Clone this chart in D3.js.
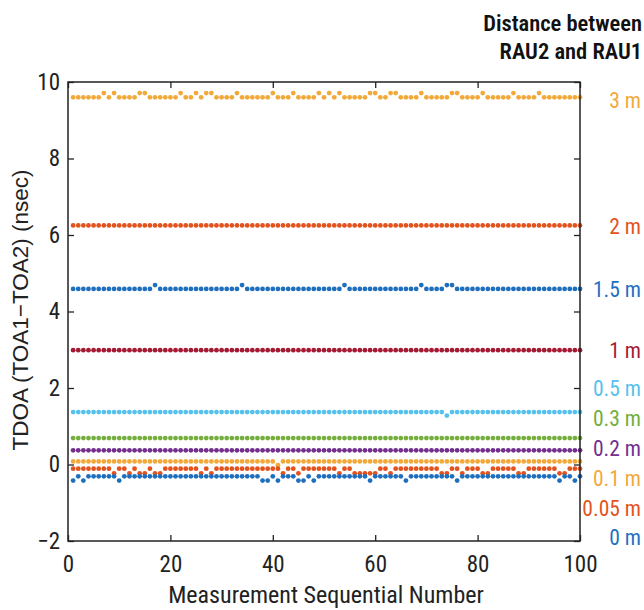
<!DOCTYPE html>
<html><head><meta charset="utf-8">
<script src="https://cdn.jsdelivr.net/npm/d3@7"></script>
<style>
html,body{margin:0;padding:0;background:#fff;}
svg{display:block;}
</style></head>
<body>
<svg id="chart" width="644" height="610"></svg>
<script>
// ---- DATA ----
const xTicks = [0, 20, 40, 60, 80, 100];
const yTicks = [-2, 0, 2, 4, 6, 8, 10];
const seriesNames = ["3 m", "2 m", "1.5 m", "1 m", "0.5 m", "0.3 m", "0.2 m", "0.1 m", "0.05 m", "0 m"];
const titleLines = ["Distance between", "RAU2 and RAU1"];
const xLabel = "Measurement Sequential Number";
const yLabel = "TDOA (TOA1\u2212TOA2) (nsec)";

const s3m = [
9.6,9.6,9.6,9.6,9.6,9.6,9.71,9.6,9.71,9.6,
9.6,9.6,9.6,9.71,9.71,9.6,9.6,9.6,9.6,9.6,
9.6,9.71,9.6,9.6,9.71,9.6,9.71,9.71,9.6,9.6,
9.6,9.6,9.71,9.6,9.6,9.6,9.6,9.6,9.6,9.71,
9.6,9.6,9.6,9.71,9.6,9.6,9.6,9.6,9.71,9.6,
9.71,9.6,9.71,9.6,9.6,9.6,9.6,9.6,9.71,9.71,
9.6,9.6,9.71,9.71,9.6,9.6,9.6,9.6,9.71,9.6,
9.6,9.6,9.6,9.6,9.71,9.71,9.6,9.6,9.6,9.6,
9.71,9.6,9.6,9.6,9.6,9.6,9.71,9.6,9.6,9.6,
9.6,9.71,9.6,9.6,9.6,9.6,9.6,9.6,9.6,9.6];
const s2m = [
6.25,6.25,6.25,6.25,6.25,6.25,6.25,6.25,6.25,6.25,
6.25,6.25,6.25,6.25,6.25,6.25,6.25,6.25,6.25,6.25,
6.25,6.25,6.25,6.25,6.25,6.25,6.25,6.25,6.25,6.25,
6.25,6.25,6.25,6.25,6.25,6.25,6.25,6.25,6.25,6.25,
6.25,6.25,6.25,6.25,6.25,6.25,6.25,6.25,6.25,6.25,
6.25,6.25,6.25,6.25,6.25,6.25,6.25,6.25,6.25,6.25,
6.25,6.25,6.25,6.25,6.25,6.25,6.25,6.25,6.25,6.25,
6.25,6.25,6.25,6.25,6.25,6.25,6.25,6.25,6.25,6.25,
6.25,6.25,6.25,6.25,6.25,6.25,6.25,6.25,6.25,6.25,
6.25,6.25,6.25,6.25,6.25,6.25,6.25,6.25,6.25,6.25];
const s1_5m = [
4.59,4.59,4.59,4.59,4.59,4.59,4.59,4.59,4.59,4.59,
4.59,4.59,4.59,4.59,4.59,4.59,4.69,4.59,4.59,4.59,
4.59,4.59,4.59,4.59,4.59,4.59,4.59,4.59,4.59,4.59,
4.59,4.59,4.59,4.69,4.59,4.59,4.59,4.59,4.59,4.59,
4.59,4.59,4.59,4.59,4.59,4.59,4.59,4.59,4.59,4.59,
4.59,4.59,4.59,4.69,4.59,4.59,4.59,4.59,4.59,4.59,
4.59,4.59,4.59,4.59,4.59,4.59,4.59,4.59,4.69,4.59,
4.59,4.59,4.59,4.69,4.69,4.59,4.59,4.59,4.59,4.59,
4.59,4.59,4.59,4.59,4.59,4.59,4.59,4.59,4.59,4.59,
4.59,4.59,4.59,4.59,4.59,4.59,4.59,4.59,4.59,4.59];
const s1m = [
2.99,2.99,2.99,2.99,2.99,2.99,2.99,2.99,2.99,2.99,
2.99,2.99,2.99,2.99,2.99,2.99,2.99,2.99,2.99,2.99,
2.99,2.99,2.99,2.99,2.99,2.99,2.99,2.99,2.99,2.99,
2.99,2.99,2.99,2.99,2.99,2.99,2.99,2.99,2.99,2.99,
2.99,2.99,2.99,2.99,2.99,2.99,2.99,2.99,2.99,2.99,
2.99,2.99,2.99,2.99,2.99,2.99,2.99,2.99,2.99,2.99,
2.99,2.99,2.99,2.99,2.99,2.99,2.99,2.99,2.99,2.99,
2.99,2.99,2.99,2.99,2.99,2.99,2.99,2.99,2.99,2.99,
2.99,2.99,2.99,2.99,2.99,2.99,2.99,2.99,2.99,2.99,
2.99,2.99,2.99,2.99,2.99,2.99,2.99,2.99,2.99,2.99];
const s0_5m = [
1.37,1.37,1.37,1.37,1.37,1.37,1.37,1.37,1.37,1.37,
1.37,1.37,1.37,1.37,1.37,1.37,1.37,1.37,1.37,1.37,
1.37,1.37,1.37,1.37,1.37,1.37,1.37,1.37,1.37,1.37,
1.37,1.37,1.37,1.37,1.37,1.37,1.37,1.37,1.37,1.37,
1.37,1.37,1.37,1.37,1.37,1.37,1.37,1.37,1.37,1.37,
1.37,1.37,1.37,1.37,1.37,1.37,1.37,1.37,1.37,1.37,
1.37,1.37,1.37,1.37,1.37,1.37,1.37,1.37,1.37,1.37,
1.37,1.37,1.37,1.28,1.37,1.37,1.37,1.37,1.37,1.37,
1.37,1.37,1.37,1.37,1.37,1.37,1.37,1.37,1.37,1.37,
1.37,1.37,1.37,1.37,1.37,1.37,1.37,1.37,1.37,1.37];
const s0_3m = [
0.69,0.69,0.69,0.69,0.69,0.69,0.69,0.69,0.69,0.69,
0.69,0.69,0.69,0.69,0.69,0.69,0.69,0.69,0.69,0.69,
0.69,0.69,0.69,0.69,0.69,0.69,0.69,0.69,0.69,0.69,
0.69,0.69,0.69,0.69,0.69,0.69,0.69,0.69,0.69,0.69,
0.69,0.69,0.69,0.69,0.69,0.69,0.69,0.69,0.69,0.69,
0.69,0.69,0.69,0.69,0.69,0.69,0.69,0.69,0.69,0.69,
0.69,0.69,0.69,0.69,0.69,0.69,0.69,0.69,0.69,0.69,
0.69,0.69,0.69,0.69,0.69,0.69,0.69,0.69,0.69,0.69,
0.69,0.69,0.69,0.69,0.69,0.69,0.69,0.69,0.69,0.69,
0.69,0.69,0.69,0.69,0.69,0.69,0.69,0.69,0.69,0.69];
const s0_2m = [
0.37,0.37,0.37,0.37,0.37,0.37,0.37,0.37,0.37,0.37,
0.37,0.37,0.37,0.37,0.37,0.37,0.37,0.37,0.37,0.37,
0.37,0.37,0.37,0.37,0.37,0.37,0.37,0.37,0.37,0.37,
0.37,0.37,0.37,0.37,0.37,0.37,0.37,0.37,0.37,0.37,
0.37,0.37,0.37,0.37,0.37,0.37,0.37,0.37,0.37,0.37,
0.37,0.37,0.37,0.37,0.37,0.37,0.37,0.37,0.37,0.37,
0.37,0.37,0.37,0.37,0.37,0.37,0.37,0.37,0.37,0.37,
0.37,0.37,0.37,0.37,0.37,0.37,0.37,0.37,0.37,0.37,
0.37,0.37,0.37,0.37,0.37,0.37,0.37,0.37,0.37,0.37,
0.37,0.37,0.37,0.37,0.37,0.37,0.37,0.37,0.37,0.37];
const s0_1m = [
0.08,0.08,0.08,0.08,0.08,0.08,0.08,0.08,0.08,0.08,
0.08,0.08,0.08,0.08,0.08,0.08,0.08,0.08,0.08,0.08,
0.08,0.08,0.08,0.08,0.08,0.08,0.08,0.08,0.08,0.08,
0.08,0.08,0.08,0.08,0.08,0.08,0.08,0.08,0.08,0.08,
-0.02,0.08,0.08,0.08,0.08,0.08,0.08,0.08,0.08,0.08,
0.08,0.08,0.08,0.08,0.08,0.08,0.08,0.08,0.08,0.08,
0.08,0.08,0.08,0.08,0.08,0.08,0.08,0.08,0.08,0.08,
0.08,0.08,0.08,0.08,0.08,0.08,0.08,0.08,0.08,0.08,
0.08,0.08,0.08,0.08,0.08,0.08,0.08,0.08,0.08,0.08,
0.08,0.08,0.08,0.08,0.08,0.08,0.08,0.08,0.08,0.08];
const s0_05m = [
-0.11,-0.11,-0.11,-0.11,-0.11,-0.11,-0.11,-0.11,-0.23,-0.11,
-0.11,-0.23,-0.11,-0.23,-0.23,-0.11,-0.23,-0.23,-0.11,-0.11,
-0.11,-0.11,-0.11,-0.11,-0.11,-0.23,-0.11,-0.23,-0.11,-0.11,
-0.11,-0.11,-0.11,-0.11,-0.11,-0.11,-0.11,-0.11,-0.11,-0.11,
-0.11,-0.23,-0.11,-0.11,-0.23,-0.11,-0.11,-0.11,-0.11,-0.11,
-0.11,-0.11,-0.23,-0.11,-0.11,-0.23,-0.23,-0.23,-0.23,-0.23,
-0.11,-0.11,-0.23,-0.11,-0.11,-0.11,-0.11,-0.11,-0.11,-0.11,
-0.11,-0.11,-0.23,-0.23,-0.11,-0.11,-0.23,-0.11,-0.11,-0.11,
-0.23,-0.23,-0.11,-0.11,-0.11,-0.11,-0.11,-0.23,-0.23,-0.11,
-0.11,-0.11,-0.11,-0.11,-0.11,-0.23,-0.23,-0.11,-0.11,-0.11];
const s0m = [
-0.42,-0.31,-0.42,-0.31,-0.31,-0.31,-0.31,-0.31,-0.31,-0.42,
-0.31,-0.31,-0.31,-0.31,-0.31,-0.31,-0.31,-0.31,-0.31,-0.31,
-0.31,-0.31,-0.31,-0.31,-0.31,-0.31,-0.31,-0.31,-0.31,-0.31,
-0.31,-0.31,-0.31,-0.31,-0.31,-0.31,-0.31,-0.42,-0.42,-0.31,
-0.42,-0.31,-0.31,-0.31,-0.42,-0.42,-0.31,-0.42,-0.31,-0.31,
-0.31,-0.31,-0.31,-0.31,-0.31,-0.31,-0.31,-0.31,-0.42,-0.31,
-0.31,-0.31,-0.31,-0.31,-0.31,-0.42,-0.31,-0.31,-0.31,-0.31,
-0.31,-0.31,-0.31,-0.31,-0.31,-0.42,-0.31,-0.31,-0.31,-0.31,
-0.31,-0.31,-0.31,-0.31,-0.31,-0.31,-0.31,-0.31,-0.31,-0.31,
-0.31,-0.31,-0.31,-0.31,-0.31,-0.42,-0.31,-0.31,-0.42,-0.31];

// ---- STYLE / LAYOUT ----
const seriesColors = ["#F2A93B","#E2531E","#1F6FBF","#A51A33","#55C1EC","#74AE3C","#722F8D","#F2A93B","#E2531E","#1F6FBF"];
const allSeries = [s3m, s2m, s1_5m, s1m, s0_5m, s0_3m, s0_2m, s0_1m, s0_05m, s0m];
const labelCenterY = [100, 226, 289, 350, 388, 418, 448, 478, 508, 537];
const NARROW = "'Liberation Sans Narrow','Roboto Condensed','Arial Narrow',sans-serif";

const margin = {left: 68, right: 64, top: 82, bottom: 69};
const W = 644, H = 610;
const iw = W - margin.left - margin.right;   // 512
const ih = H - margin.top - margin.bottom;   // 459

const svg = d3.select("#chart");
const g = svg.append("g").attr("transform", `translate(${margin.left},${margin.top})`);

const x = d3.scaleLinear().domain([0, 100]).range([0, iw]);
const y = d3.scaleLinear().domain([-2, 10]).range([ih, 0]);

// points
allSeries.forEach((vals, si) => {
  g.append("g").selectAll("circle")
    .data(vals.map((v, i) => ({n: i + 1, v})))
    .join("circle")
    .attr("cx", d => x(d.n))
    .attr("cy", d => y(d.v))
    .attr("r", 2.4)
    .attr("fill", seriesColors[si]);
});

// axes with inward ticks
const tickStyle = sel => {
  sel.select(".domain").remove();
  sel.selectAll(".tick line").attr("stroke", "#222").attr("stroke-width", 1.3);
  sel.selectAll(".tick text").attr("fill", "#222").style("font-family", NARROW).style("font-size", "23px");
};
g.append("g").attr("transform", `translate(0,${ih})`)
  .call(d3.axisBottom(x).tickValues(xTicks).tickSizeInner(-6).tickSizeOuter(0).tickPadding(15))
  .call(tickStyle);
g.append("g")
  .call(d3.axisTop(x).tickValues(xTicks).tickSizeInner(-6).tickSizeOuter(0).tickFormat(""))
  .call(tickStyle);
g.append("g")
  .call(d3.axisLeft(y).tickValues(yTicks).tickSizeInner(-6).tickSizeOuter(0).tickPadding(8))
  .call(tickStyle);
g.append("g").attr("transform", `translate(${iw},0)`)
  .call(d3.axisRight(y).tickValues(yTicks).tickSizeInner(-6).tickSizeOuter(0).tickFormat(""))
  .call(tickStyle);

// frame
g.append("rect").attr("x", 0).attr("y", 0).attr("width", iw).attr("height", ih)
  .attr("fill", "none").attr("stroke", "#222").attr("stroke-width", 1.5);

// axis titles
svg.append("text")
  .attr("x", margin.left + iw / 2 + 2).attr("y", 603)
  .attr("text-anchor", "middle")
  .style("font-family", NARROW).style("font-size", "24px").attr("fill", "#222")
  .text(xLabel);
svg.append("text")
  .attr("transform", `translate(28,${310}) rotate(-90)`)
  .attr("text-anchor", "middle")
  .style("font-family", "'Liberation Sans',Arial,sans-serif").style("font-size", "22.5px").attr("fill", "#222")
  .text(yLabel);

// legend title
titleLines.forEach((t, i) => {
  svg.append("text")
    .attr("x", 642).attr("y", 31 + i * 28)
    .attr("text-anchor", "end")
    .style("font-family", NARROW).style("font-size", "22.5px").style("font-weight", "600")
    .attr("fill", "#111")
    .text(t);
});

// right-side series labels
seriesNames.forEach((name, i) => {
  svg.append("text")
    .attr("x", 641).attr("y", labelCenterY[i])
    .attr("dy", "0.36em")
    .attr("text-anchor", "end")
    .style("font-family", NARROW).style("font-size", "21.5px")
    .attr("fill", seriesColors[i])
    .text(name);
});
</script>
</body></html>
